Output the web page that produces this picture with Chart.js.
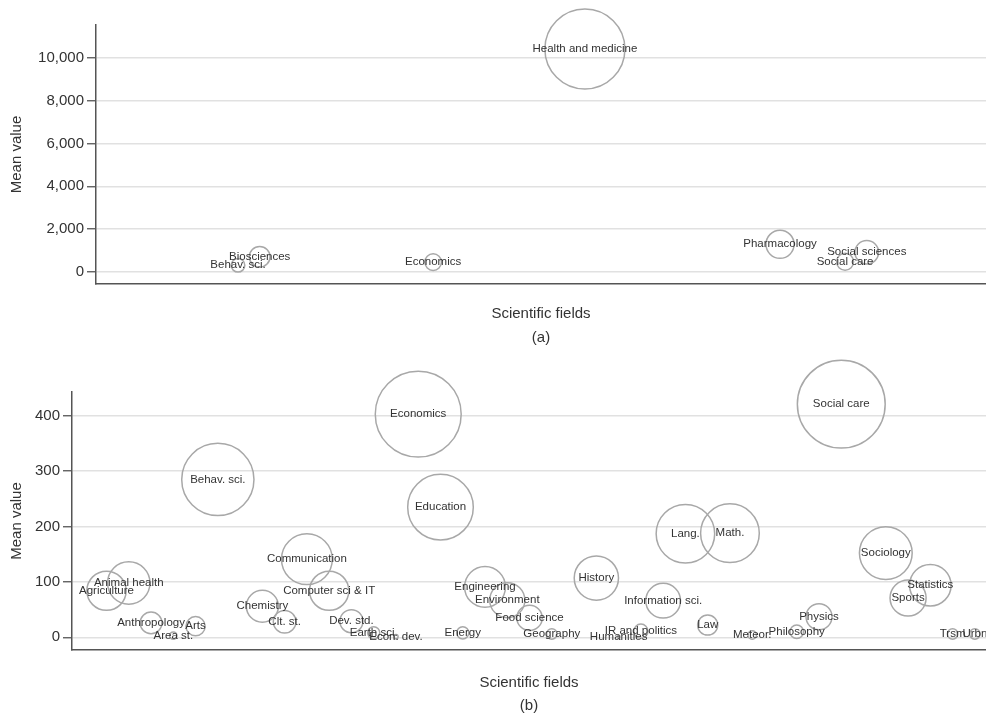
<!DOCTYPE html>
<html>
<head>
<meta charset="utf-8">
<title>Mean value by scientific field</title>
<script src="https://cdn.jsdelivr.net/npm/chart.js@4/dist/chart.umd.min.js"></script>
<style>
  html, body { margin: 0; padding: 0; background: #fff; overflow: hidden; }
  canvas { position: absolute; left: 0; }
  #panelA { top: 0; }
  #panelB { top: 358px; }
</style>
</head>
<body>
<canvas id="panelA" width="986" height="358"></canvas>
<canvas id="panelB" width="986" height="358"></canvas>
<script>
// Alphabetical order of all fields; a field's position on the x axis is its index here
const fieldOrder = [
  'Agriculture', 'Animal health', 'Anthropology', 'Area st.', 'Arts', 'Behav. sci.',
  'Biosciences', 'Chemistry', 'Clt. st.', 'Communication', 'Computer sci & IT',
  'Dev. std.', 'Earth sci.', 'Econ. dev.', 'Economics', 'Education', 'Energy',
  'Engineering', 'Environment', 'Food science', 'Geography', 'Health and medicine',
  'History', 'Humanities', 'IR and politics', 'Information sci.', 'Lang.', 'Law',
  'Math.', 'Meteor.', 'Pharmacology', 'Philosophy', 'Physics', 'Social care',
  'Social sciences', 'Sociology', 'Sports', 'Statistics', 'Trsm', 'Urbn'
];

// Panel (a)
const fieldsA = ['Behav. sci.', 'Biosciences', 'Economics', 'Health and medicine',
                 'Pharmacology', 'Social care', 'Social sciences'];
const meanA = [300, 700, 450, 10430, 1283, 470, 909];
const yTicksA = [0, 2000, 4000, 6000, 8000, 10000];

// Panel (b)
const fieldsB = ['Agriculture', 'Animal health', 'Anthropology', 'Area st.', 'Arts',
  'Behav. sci.', 'Chemistry', 'Clt. st.', 'Communication', 'Computer sci & IT',
  'Dev. std.', 'Earth sci.', 'Econ. dev.', 'Economics', 'Education', 'Energy',
  'Engineering', 'Environment', 'Food science', 'Geography', 'History', 'Humanities',
  'IR and politics', 'Information sci.', 'Lang.', 'Law', 'Math.', 'Meteor.',
  'Philosophy', 'Physics', 'Social care', 'Sociology', 'Sports', 'Statistics',
  'Trsm', 'Urbn'];
const meanB = [84, 98, 26, 3, 20,
  285, 56, 28, 141, 84,
  29, 8, 1, 403, 235, 8,
  91, 67, 35, 6, 107, 0.5,
  11, 66, 187, 22, 188, 4,
  10, 37, 421, 152, 71, 94,
  6, 6];
const yTicksB = [0, 100, 200, 300, 400];

const FONT = "'Liberation Sans', Arial, Helvetica, sans-serif";

// Writes each field's name at the centre of its bubble
const bubbleLabels = {
  id: 'bubbleLabels',
  afterDatasetsDraw(chart) {
    const ctx = chart.ctx;
    ctx.save();
    ctx.font = '11.5px ' + FONT;
    ctx.fillStyle = '#333';
    ctx.textAlign = 'center';
    ctx.textBaseline = 'middle';
    chart.data.datasets.forEach((ds, i) => {
      chart.getDatasetMeta(i).data.forEach((el, j) => {
        ctx.fillText(ds.data[j].label, el.x, el.y);
      });
    });
    ctx.restore();
  }
};

// Axis titles and the panel caption
const axisTitles = {
  id: 'axisTitles',
  afterDraw(chart, args, opts) {
    const ctx = chart.ctx;
    const a = chart.chartArea;
    ctx.save();
    ctx.font = '15px ' + FONT;
    ctx.fillStyle = '#333';
    ctx.textAlign = 'center';
    ctx.textBaseline = 'middle';
    ctx.fillText('Scientific fields', (a.left + a.right) / 2, a.bottom + opts.xTitleGap);
    ctx.fillText(opts.caption, (a.left + a.right) / 2, a.bottom + opts.captionGap);
    ctx.translate(17, (a.top + a.bottom) / 2);
    ctx.rotate(-Math.PI / 2);
    ctx.fillText('Mean value', 0, 0);
    ctx.restore();
  }
};

function makePanel(canvasId, fields, means, yTicks, cfg) {
  const points = fields.map((f, i) => ({
    x: fieldOrder.indexOf(f),
    y: means[i],
    r: cfg.sizeScale * Math.sqrt(Math.max(means[i], 0)),
    label: f
  }));
  return new Chart(document.getElementById(canvasId), {
    type: 'bubble',
    data: {
      datasets: [{
        data: points,
        backgroundColor: 'rgba(0,0,0,0)',
        borderColor: '#a8a8a8',
        borderWidth: 1.5,
        clip: false
      }]
    },
    options: {
      responsive: false,
      animation: false,
      events: [],
      layout: { autoPadding: false, padding: { top: cfg.top, right: 0, left: 0, bottom: 0 } },
      plugins: {
        legend: { display: false },
        tooltip: { enabled: false },
        axisTitles: { caption: cfg.caption, xTitleGap: cfg.xTitleGap, captionGap: cfg.captionGap }
      },
      scales: {
        x: {
          type: 'linear',
          min: -1.55,
          max: 39.5,
          grid: { display: false },
          ticks: { display: false },
          border: { display: true, color: '#555', width: 1.5 },
          afterFit(scale) { scale.height = cfg.xAxisHeight; }
        },
        y: {
          type: 'linear',
          min: cfg.yMin,
          max: cfg.yMax,
          afterBuildTicks(scale) { scale.ticks = yTicks.map(v => ({ value: v })); },
          afterFit(scale) { scale.width = cfg.yAxisWidth; },
          grid: {
            color: '#e1e1e1',
            lineWidth: 1.5,
            tickColor: '#555',
            tickWidth: 1.3,
            tickLength: 9
          },
          border: { display: true, color: '#555', width: 1.5 },
          ticks: {
            padding: 3,
            color: '#333',
            font: { family: FONT, size: 15 },
            callback: v => v.toLocaleString('en-US')
          }
        }
      }
    },
    plugins: [bubbleLabels, axisTitles]
  });
}

makePanel('panelA', fieldsA, meanA, yTicksA, {
  top: 25, xAxisHeight: 74, yAxisWidth: 96,
  yMin: -576, yMax: 11555, sizeScale: 0.392,
  caption: '(a)', xTitleGap: 30, captionGap: 54
});

makePanel('panelB', fieldsB, meanB, yTicksB, {
  top: 34, xAxisHeight: 66, yAxisWidth: 72,
  yMin: -23, yMax: 443, sizeScale: 2.14,
  caption: '(b)', xTitleGap: 33, captionGap: 56
});
</script>
</body>
</html>
